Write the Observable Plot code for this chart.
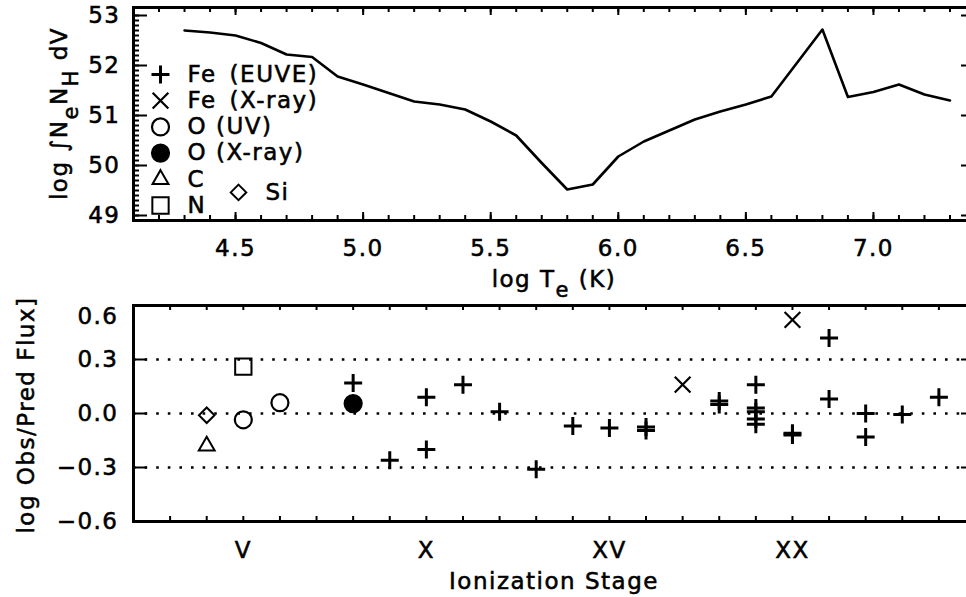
<!DOCTYPE html>
<html><head><meta charset="utf-8">
<script src="https://cdn.jsdelivr.net/npm/d3@7"></script>
<script src="https://cdn.jsdelivr.net/npm/@observablehq/plot@0.6"></script>
<style>
html,body{margin:0;padding:0;background:#fff;overflow:hidden;}
#chart svg{display:block;}
#chart svg text{stroke:black;stroke-width:0.55px;}
</style></head><body><div id="chart"></div>
<script>
// ---- top panel: emission measure distribution ----
const logT  = [4.3, 4.4, 4.5, 4.6, 4.7, 4.8, 4.9, 5.0, 5.1, 5.2, 5.3, 5.4, 5.5, 5.6, 5.7, 5.8, 5.9, 6.0, 6.1, 6.2, 6.3, 6.4, 6.5, 6.6, 6.7, 6.8, 6.9, 7.0, 7.1, 7.2, 7.3];
const logEM = [52.70, 52.66, 52.60, 52.45, 52.22, 52.17, 51.78, 51.62, 51.45, 51.28, 51.22, 51.12, 50.88, 50.60, 50.05, 49.52, 49.62, 50.18, 50.48, 50.70, 50.92, 51.08, 51.22, 51.38, 52.05, 52.72, 51.37, 51.47, 51.62, 51.42, 51.30];
const tTicks = [4.5, 5.0, 5.5, 6.0, 6.5, 7.0];
const tTickLabels = ["4.5", "5.0", "5.5", "6.0", "6.5", "7.0"];
const emTicks = [49, 50, 51, 52, 53];
const emTickLabels = ["49", "50", "51", "52", "53"];

// ---- bottom panel: log Obs/Pred flux by ionization stage ----
const feEuveStage = [8, 9, 10, 10, 11, 12, 13, 14, 15, 16, 16, 18, 18, 19, 19, 19, 19, 19, 20, 20, 21, 21, 22, 22, 23, 24];
const feEuveVal   = [0.17, -0.26, 0.09, -0.20, 0.16, 0.01, -0.31, -0.07, -0.08, -0.075, -0.095, 0.07, 0.05, 0.16, 0.03, 0.01, -0.03, -0.06, -0.11, -0.12, 0.42, 0.08, 0.0, -0.13, -0.005, 0.09];
const feXrayStage = [17, 20];
const feXrayVal   = [0.16, 0.52];
const oUvStage = [5, 6];
const oUvVal   = [-0.035, 0.06];
const oXrayStage = [8];
const oXrayVal   = [0.055];
const cStage = [4];
const cVal   = [-0.18];
const nStage = [5];
const nVal   = [0.26];
const siStage = [4];
const siVal   = [-0.01];
const stageTicks = [5, 10, 15, 20];
const stageTickLabels = ["V", "X", "XV", "XX"];
const ratioTicks = [-0.6, -0.3, 0.0, 0.3, 0.6];
const ratioTickLabels = ["\u22120.6", "\u22120.3", "0.0", "0.3", "0.6"];
const refLines = [-0.3, 0.0, 0.3];

const series = [
  {label: "Fe\u2002(EUVE)",  stages: feEuveStage, values: feEuveVal, symbol: d3.symbolPlus,     r: 5.85, fill: "none",  sw: 3,   col: 0, row: 0},
  {label: "Fe\u2002(X-ray)", stages: feXrayStage, values: feXrayVal, symbol: d3.symbolTimes,    r: 7.2,  fill: "none",  sw: 2.2, col: 0, row: 1},
  {label: "O (UV)",     stages: oUvStage,    values: oUvVal,    symbol: d3.symbolCircle,   r: 8.5,  fill: "none",  sw: 2.2, col: 0, row: 2},
  {label: "O (X-ray)",  stages: oXrayStage,  values: oXrayVal,  symbol: d3.symbolCircle,   r: 8.5,  fill: "black", sw: 2.2, col: 0, row: 3},
  {label: "C",          stages: cStage,      values: cVal,      symbol: d3.symbolTriangle, r: 5.9,  fill: "none",  sw: 2,   col: 0, row: 4},
  {label: "N",          stages: nStage,      values: nVal,      symbol: d3.symbolSquare,   r: 9.2,  fill: "none",  sw: 2,   col: 0, row: 5},
  {label: "Si",         stages: siStage,     values: siVal,     symbol: d3.symbolDiamond2, r: 7.0,  fill: "none",  sw: 2,   col: 1, row: 4.5}
];

const W = 966, ML = 133, MR = -9;
const FONT = {fontFamily: "'DejaVu Sans', sans-serif", fontSize: "23px", letterSpacing: "1.5px", background: "white", overflow: "visible", color: "black"};

function frameTicksY(values, len, panelW) {
  return [
    Plot.tickY(values, {y: d => d, insetRight: panelW - len, stroke: "black", strokeWidth: 2}),
    Plot.tickY(values, {y: d => d, insetLeft: panelW - len, stroke: "black", strokeWidth: 2})
  ];
}
function frameTicksX(values, len, panelH) {
  return [
    Plot.tickX(values, {x: d => d, insetTop: panelH - len, stroke: "black", strokeWidth: 2}),
    Plot.tickX(values, {x: d => d, insetBottom: panelH - len, stroke: "black", strokeWidth: 2})
  ];
}

// ---------- TOP ----------
const topH = 290, topMT = 7, topMB = 70;
const topPW = W - ML - MR, topPH = topH - topMT - topMB;
const demRows = logT.map((t, i) => ({t, em: logEM[i]}));
const legendMarks = series.flatMap(s => {
  const dx = 27 + s.col * 78, dy = 67 + s.row * 26.2;
  return [
    Plot.dot([s], {frameAnchor: "top-left", dx, dy, symbol: s.symbol, r: s.r, fill: s.fill, stroke: "black", strokeWidth: s.sw}),
    Plot.text([s], {frameAnchor: "top-left", lineAnchor: "middle", dx: dx + 27, dy, text: d => d.label, textAnchor: "start", fill: "black"})
  ];
});

const topPlot = Plot.plot({
  width: W, height: topH, marginLeft: ML, marginRight: MR, marginTop: topMT, marginBottom: topMB,
  x: {domain: [4.1, 7.4], axis: null},
  y: {domain: [48.9, 53.16], axis: null},
  style: FONT,
  marks: [
    Plot.line(demRows, {x: "t", y: "em", stroke: "black", strokeWidth: 2.6}),
    ...frameTicksY(emTicks, 14, topPW),
    ...frameTicksY(d3.range(49, 53.01, 0.1), 6, topPW),
    ...frameTicksX(tTicks, 8, topPH),
    ...frameTicksX(d3.range(4.1, 7.41, 0.1), 5, topPH),
    Plot.text(tTicks, {x: d => d, text: (d, i) => tTickLabels[i], frameAnchor: "bottom", lineAnchor: "middle", dy: 28, fill: "black"}),
    Plot.text(emTicks, {y: d => d, text: (d, i) => emTickLabels[i], frameAnchor: "left", lineAnchor: "middle", textAnchor: "end", dx: -13, fill: "black"}),
    ...legendMarks,
    Plot.frame({stroke: "black", strokeWidth: 3})
  ]
});

// ---------- BOTTOM ----------
const botH = 307, botMT = 15, botMB = 76;
const botPW = W - ML - MR, botPH = botH - botMT - botMB;
const pointMarks = series.map(s => Plot.dot(
  s.stages.map((st, i) => ({stage: st, v: s.values[i]})),
  {x: "stage", y: "v", symbol: s.symbol, r: s.r, fill: s.fill, stroke: "black", strokeWidth: s.sw}
));

const botPlot = Plot.plot({
  width: W, height: botH, marginLeft: ML, marginRight: MR, marginTop: botMT, marginBottom: botMB,
  x: {domain: [2, 25], axis: null},
  y: {domain: [-0.6, 0.6], axis: null},
  style: FONT,
  marks: [
    Plot.ruleY(refLines, {y: d => d, stroke: "black", strokeWidth: 2.6, strokeDasharray: "2.6,9"}),
    ...frameTicksY(ratioTicks, 14, botPW),
    ...frameTicksX(d3.range(2, 25.01, 1), 5, botPH),
    ...pointMarks,
    Plot.text(stageTicks, {x: d => d, text: (d, i) => stageTickLabels[i], frameAnchor: "bottom", lineAnchor: "middle", dy: 29, fill: "black"}),
    Plot.text(ratioTicks.filter(d => d < 0.6), {y: d => d, text: d => ratioTickLabels[ratioTicks.indexOf(d)], frameAnchor: "left", lineAnchor: "middle", textAnchor: "end", dx: -15, fill: "black"}),
    Plot.text(ratioTicks.filter(d => d >= 0.6), {y: d => d, text: d => ratioTickLabels[ratioTicks.indexOf(d)], frameAnchor: "left", lineAnchor: "middle", textAnchor: "end", dx: -15, dy: 11, fill: "black"}),
    Plot.frame({stroke: "black", strokeWidth: 3})
  ]
});

// ---------- titles with subscripts ----------
const cx = (ML + (W - MR)) / 2;
{
  const s = d3.select(topPlot);
  const t = s.append("text").attr("x", cx).attr("y", 287).attr("text-anchor", "middle").attr("fill", "black");
  t.append("tspan").text("log T");
  t.append("tspan").attr("dy", 10).attr("font-size", "21px").text("e");
  t.append("tspan").attr("dy", -10).text(" (K)");
  const y = s.append("text").attr("transform", `translate(67,${topMT + topPH / 2}) rotate(-90)`).attr("text-anchor", "middle").attr("fill", "black");
  y.append("tspan").text("log \u222BN");
  y.append("tspan").attr("dy", 11).attr("font-size", "21px").text("e");
  y.append("tspan").attr("dy", -11).text("N");
  y.append("tspan").attr("dy", 11).attr("font-size", "21px").text("H");
  y.append("tspan").attr("dy", -11).text(" dV");
}
{
  const s = d3.select(botPlot);
  s.append("text").attr("x", cx).attr("y", 299).attr("text-anchor", "middle").attr("fill", "black").text("Ionization Stage");
  s.append("text").attr("transform", `translate(34,${botMT + botPH / 2 + 2}) rotate(-90)`).attr("text-anchor", "middle").attr("fill", "black").text("log Obs/Pred Flux]");
}

document.getElementById("chart").append(topPlot, botPlot);
</script>
</body></html>
